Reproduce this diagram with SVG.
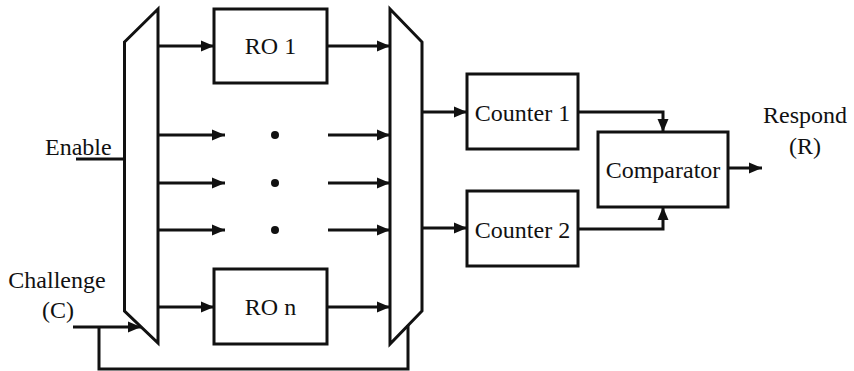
<svg xmlns="http://www.w3.org/2000/svg" width="854" height="371" viewBox="0 0 854 371">
<style>
.s{fill:#fff;stroke:#111;stroke-width:3;stroke-linejoin:miter}
.w{fill:none;stroke:#111;stroke-width:3}
.a{marker-end:url(#ah)}
text{font-family:'Liberation Serif',serif;font-size:24px;fill:#111}
.m{text-anchor:middle}
</style>
<defs>
<marker id="ah" markerUnits="userSpaceOnUse" markerWidth="14" markerHeight="14" refX="13" refY="7" orient="auto" viewBox="0 0 14 14">
<path d="M0,1.5 L13,7 L0,12.5 z" fill="#111"/>
</marker>
</defs>
<g id="mux-left"><path class="s" d="M124.5,42 L158,9 L158,343 L124.5,311 Z"/></g>
<g id="mux-right"><path class="s" d="M390,9 L422,42 L422,311 L390,344 Z"/></g>
<g id="ro1"><rect class="s" x="214" y="9" width="113" height="74"/><text class="m" x="270.5" y="54" font-family="Liberation Serif, serif">RO 1</text></g>
<g id="ron"><rect class="s" x="214" y="269" width="113" height="75"/><text class="m" x="270.5" y="315" font-family="Liberation Serif, serif">RO n</text></g>
<g id="dots"><circle cx="275" cy="135" r="4" fill="#111"/><circle cx="275" cy="183" r="4" fill="#111"/><circle cx="275" cy="230" r="4" fill="#111"/></g>
<g id="counter1"><rect class="s" x="467" y="74" width="111" height="75"/><text class="m" x="522.5" y="121" font-family="Liberation Serif, serif">Counter 1</text></g>
<g id="counter2"><rect class="s" x="467" y="191" width="111" height="75"/><text class="m" x="522.5" y="238" font-family="Liberation Serif, serif">Counter 2</text></g>
<g id="comparator"><rect class="s" x="598" y="132" width="130" height="75"/><text class="m" x="663" y="178" font-family="Liberation Serif, serif">Comparator</text></g>
<g id="labels" font-family="Liberation Serif, serif">
<text x="45" y="155" font-family="Liberation Serif, serif">Enable</text>
<text class="m" x="57" y="288" font-family="Liberation Serif, serif">Challenge</text>
<text class="m" x="58" y="318" font-family="Liberation Serif, serif">(C)</text>
<text class="m" x="805" y="123" font-family="Liberation Serif, serif">Respond</text>
<text class="m" x="805" y="154" font-family="Liberation Serif, serif">(R)</text>
</g>
<g id="connectors">
<line class="w" x1="76" y1="159" x2="124.5" y2="159"/>
<line class="w a" x1="73" y1="327" x2="141" y2="327"/>
<polyline class="w" points="99,327 99,369 408,369 408,325"/>
<line class="w a" x1="158" y1="46" x2="214" y2="46"/>
<line class="w a" x1="158" y1="135" x2="225" y2="135"/>
<line class="w a" x1="158" y1="183" x2="225" y2="183"/>
<line class="w a" x1="158" y1="230" x2="225" y2="230"/>
<line class="w a" x1="158" y1="307" x2="214" y2="307"/>
<line class="w a" x1="327" y1="46" x2="390" y2="46"/>
<line class="w a" x1="328" y1="135" x2="390" y2="135"/>
<line class="w a" x1="328" y1="183" x2="390" y2="183"/>
<line class="w a" x1="328" y1="230" x2="390" y2="230"/>
<line class="w a" x1="327" y1="307" x2="390" y2="307"/>
<line class="w a" x1="422" y1="112" x2="467" y2="112"/>
<line class="w a" x1="422" y1="228" x2="467" y2="228"/>
<polyline class="w a" points="578,112 663,112 663,132"/>
<polyline class="w a" points="578,229 663,229 663,207"/>
<line class="w a" x1="728" y1="168" x2="762" y2="168"/>
</g>
</svg>
